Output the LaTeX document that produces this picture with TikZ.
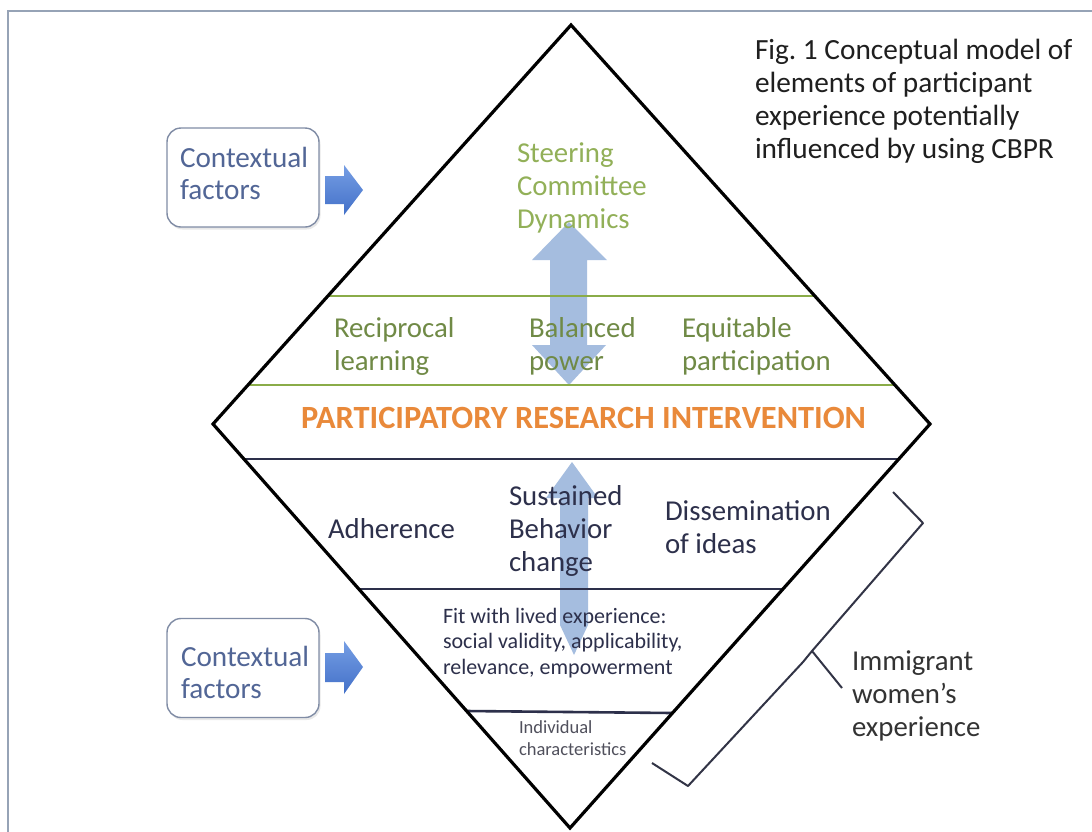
\documentclass[tikz,border=0pt]{standalone}
\usepackage{fontspec}
\setmainfont{Carlito}
\usetikzlibrary{shadows}
\frenchspacing

\definecolor{framecol}{RGB}{150,163,182}
\definecolor{greenlight}{RGB}{146,176,88}
\definecolor{greendark}{RGB}{112,138,70}
\definecolor{greenline}{RGB}{138,172,72}
\definecolor{prorange}{RGB}{233,137,58}
\definecolor{navy}{RGB}{45,48,75}
\definecolor{ctxblue}{RGB}{82,102,150}
\definecolor{ctxframe}{RGB}{128,140,165}
\definecolor{softblue}{RGB}{150,178,218}
\definecolor{arrowtop}{RGB}{118,158,228}
\definecolor{arrowbot}{RGB}{66,112,200}
\definecolor{bracecol}{RGB}{50,52,70}
\definecolor{graytext}{RGB}{80,80,92}

% stacked, left-aligned lines whose reference point is the first baseline
\newcommand\stack[1]{\vtop{\halign{##\hfil\cr#1\crcr}}}

\tikzset{
  lbl/.style={anchor=base west, inner sep=0pt, outer sep=0pt},
  big/.style={font=\fontsize{28.8}{33}\selectfont},
  mid/.style={font=\fontsize{22}{25.5}\selectfont},
  small/.style={font=\fontsize{18.5}{22}\selectfont},
  greenrule/.style={draw=greenline, line width=2.4pt},
  navyrule/.style={draw=navy, line width=2.6pt},
  ctxbox/.style={draw=ctxframe, line width=1.4pt, rounded corners=14pt, fill=white,
     minimum width=152pt, minimum height=99pt, inner sep=0pt,
     drop shadow={opacity=0.18, shadow xshift=1.5pt, shadow yshift=-2.5pt}},
  ctxtext/.style={lbl, text=ctxblue, font=\fontsize{29.2}{32}\selectfont},
  blockarrow/.style={top color=arrowtop, bottom color=arrowbot, draw=none},
  bigarrow/.style={fill=softblue, opacity=0.85, draw=none},
}

\begin{document}
\begin{tikzpicture}[x=1pt,y=-1pt]
\useasboundingbox (0,0) rectangle (1092,831);
\fill[white] (0,0) rectangle (1092,831);

% outer frame (open towards the right and bottom edges)
\draw[framecol, line width=2pt] (8,840) -- (8,11) -- (1100,11);

% diamond corners
\coordinate (T) at (571,25);
\coordinate (L) at (213,424);
\coordinate (R) at (930,424);
\coordinate (B) at (570,828);

% translucent double arrows
\fill[bigarrow] (569,222) -- (607,260) -- (587,260) -- (587,345) -- (606,345)
   -- (569,385) -- (532,345) -- (550,345) -- (550,260) -- (532,260) -- cycle;
\fill[bigarrow] (572,462) -- (598,498) -- (588,498) -- (588,625) -- (574,655)
   -- (560,625) -- (560,498) -- (546,498) -- cycle;

% horizontal bands
\coordinate (g1l) at (327.9,296); \coordinate (g1r) at (814.8,296);
\coordinate (g2l) at (248.0,385); \coordinate (g2r) at (894.9,385);
\coordinate (n1l) at (243.9,459); \coordinate (n1r) at (898.8,459);
\coordinate (n2l) at (358.8,589); \coordinate (n2r) at (783.0,589);
\coordinate (n3l) at (466.6,711); \coordinate (n3r) at (672.5,713);
\draw[greenrule] (g1l) -- (g1r);
\draw[greenrule] (g2l) -- (g2r);
\draw[navyrule] (n1l) -- (n1r);
\draw[navyrule] (n2l) -- (n2r);
\draw[navyrule] (n3l) -- (n3r);

% diamond outline
\draw[black, line width=3.2pt, line join=miter] (T) -- (R) -- (B) -- (L) -- cycle;

% upper half labels
\node[lbl, big, text=greenlight] (steer) at (517,162) {\stack{Steering\cr Committee\cr Dynamics}};
\node[lbl, big, text=greendark] (recip) at (334,337) {\stack{Reciprocal\cr learning}};
\node[lbl, big, text=greendark] (balan) at (529,337) {\stack{Balanced\cr power}};
\node[lbl, big, text=greendark] (equit) at (682,337) {\stack{Equitable\cr participation}};

% central band
\node[lbl, text=prorange, font=\fontsize{32.4}{36}\selectfont\bfseries] (pri) at (301,428)
   {PARTICIPATORY RESEARCH INTERVENTION};

% lower half labels
\node[lbl, big, text=navy] (adher) at (328,538) {Adherence};
\node[lbl, big, text=navy] (susta) at (509,505) {\stack{Sustained\cr Behavior\cr change}};
\node[lbl, big, text=navy] (disse) at (665,520) {\stack{Dissemination\cr of ideas}};
\node[lbl, mid, text=navy] (fit) at (443,623)
   {\stack{Fit with lived experience:\cr social validity, applicability,\cr relevance, empowerment}};
\node[lbl, small, text=graytext] (indiv) at (519,733) {\stack{Individual\cr characteristics}};

% contextual factor boxes with their arrows
\node[ctxbox] (ctx1box) at (243,177.5) {};
\node[ctxtext] (ctx1) at (180,167) {\stack{Contextual\cr factors}};
\node[ctxbox] (ctx2box) at (243,668) {};
\node[ctxtext] (ctx2) at (181,666) {\stack{Contextual\cr factors}};
\shade[blockarrow] (325,176) -- (344,176) -- (344,165) -- (363,190) -- (344,215)
   -- (344,204) -- (325,204) -- cycle;
\shade[blockarrow] (325,653) -- (344,653) -- (344,641) -- (363,667) -- (344,694)
   -- (344,682) -- (325,682) -- cycle;

% caption
\node[lbl, text=black!88, font=\fontsize{29.3}{33.3}\selectfont] (fig) at (755,59)
   {\stack{Fig. 1 Conceptual model of\cr elements of participant\cr experience potentially\cr influenced by using CBPR}};

% brace grouping the lower layers
\coordinate (b1) at (893,492);
\coordinate (b2) at (923,523);
\coordinate (b3) at (812,651);
\coordinate (b4) at (842,688);
\coordinate (b5) at (803,662);
\coordinate (b6) at (688,786);
\coordinate (b7) at (652,763);
\draw[bracecol, line width=2pt, line join=round] (b1) -- (b2) -- (b3) -- (b4);
\draw[bracecol, line width=2pt, line join=round] (b3) -- (b5) -- (b6) -- (b7);

\node[lbl, big, text=black!80] (immig) at (852,670) {\stack{Immigrant\cr women’s\cr experience}};
\end{tikzpicture}
\end{document}
